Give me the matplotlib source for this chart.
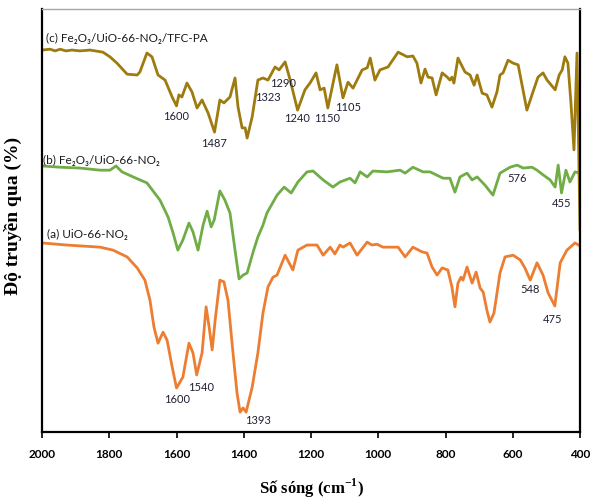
import matplotlib
matplotlib.use("Agg")
import matplotlib.pyplot as plt

# FTIR spectra, transmittance in arbitrary % units (stacked curves)
wn_a = [2000, 1926, 1827, 1789, 1747, 1717, 1694, 1679, 1667, 1655,
        1640, 1628, 1613, 1600, 1581, 1563, 1551, 1540, 1524, 1512,
        1503, 1494, 1485, 1471, 1459, 1447, 1432, 1420, 1411, 1402,
        1393, 1375, 1358, 1343, 1328, 1313, 1301, 1277, 1254, 1239,
        1212, 1182, 1164, 1143, 1129, 1114, 1105, 1084, 1063, 1033,
        1019, 1004, 986, 941, 920, 897, 870, 855, 840, 825,
        810, 793, 781, 772, 763, 754, 748, 736, 721, 709,
        697, 688, 677, 668, 656, 638, 623, 599, 578, 564,
        548, 528, 510, 495, 475, 459, 439, 415, 400]
t_a = [44.7, 44.2, 43.7, 43.0, 41.4, 38.8, 35.9, 31.2, 24.8, 21.0,
       23.6, 21.7, 15.4, 10.4, 13.0, 21.0, 18.7, 13.5, 18.7, 29.6,
       24.8, 19.4, 26.5, 35.9, 35.5, 31.2, 18.7, 9.2, 4.7, 5.7,
       4.7, 10.6, 18.7, 28.1, 34.3, 36.6, 37.1, 41.8, 38.3, 43.0,
       44.2, 44.2, 41.8, 43.7, 42.1, 44.2, 43.7, 44.7, 41.8, 44.9,
       44.2, 44.4, 43.7, 43.7, 41.4, 43.7, 42.6, 42.3, 39.0, 37.1,
       38.8, 38.3, 34.3, 29.6, 35.2, 36.6, 35.9, 39.0, 35.2, 37.8,
       34.0, 33.1, 28.8, 26.0, 28.1, 37.6, 41.4, 41.8, 40.7, 38.8,
       35.9, 40.0, 37.1, 32.9, 29.8, 40.0, 43.0, 44.7, 44.0]

wn_b = [2000, 1946, 1887, 1827, 1798, 1780, 1762, 1729, 1688, 1649,
        1625, 1610, 1596, 1581, 1563, 1551, 1536, 1521, 1509, 1497,
        1488, 1471, 1456, 1441, 1426, 1414, 1402, 1390, 1372, 1358,
        1343, 1331, 1301, 1280, 1259, 1239, 1212, 1194, 1164, 1135,
        1114, 1084, 1069, 1054, 1033, 1016, 974, 935, 920, 897,
        867, 846, 807, 787, 772, 757, 736, 721, 706, 683,
        659, 638, 608, 587, 569, 543, 528, 510, 489, 474,
        465, 455, 442, 430, 415, 400]
t_b = [62.9, 62.6, 62.4, 61.9, 61.9, 62.9, 61.5, 60.3, 58.9, 54.8,
       50.8, 47.0, 43.0, 45.4, 49.4, 47.3, 43.0, 48.9, 52.2, 48.5,
       50.1, 57.0, 54.8, 51.8, 43.0, 36.2, 37.1, 37.6, 42.6, 46.1,
       48.9, 51.8, 56.0, 57.9, 56.5, 59.1, 61.5, 61.7, 59.6, 57.9,
       59.1, 60.0, 58.9, 61.5, 60.3, 61.7, 61.5, 61.9, 61.2, 62.6,
       61.5, 61.5, 60.0, 60.0, 56.7, 60.3, 61.2, 59.6, 60.3, 58.4,
       56.0, 61.2, 62.6, 63.1, 62.4, 62.6, 61.9, 60.8, 59.6, 57.9,
       63.1, 56.5, 61.9, 59.1, 61.5, 61.2]

wn_c = [2000, 1976, 1961, 1946, 1929, 1911, 1887, 1857, 1819, 1798,
        1777, 1747, 1717, 1709, 1688, 1673, 1655, 1634, 1613, 1600,
        1593, 1584, 1569, 1554, 1539, 1524, 1506, 1487, 1471, 1459,
        1441, 1426, 1417, 1405, 1396, 1390, 1375, 1358, 1343, 1328,
        1307, 1295, 1277, 1262, 1240, 1218, 1203, 1185, 1173, 1161,
        1150, 1123, 1105, 1090, 1075, 1048, 1033, 1024, 1010, 995,
        971, 941, 914, 897, 885, 873, 861, 852, 840, 828,
        810, 795, 787, 781, 775, 763, 742, 727, 715, 706,
        691, 677, 662, 647, 638, 629, 614, 599, 584, 558,
        540, 525, 510, 498, 474, 462, 453, 445, 436, 427,
        418, 409, 400]
t_c = [90.3, 90.5, 90.1, 90.5, 90.1, 90.3, 90.1, 90.3, 89.8, 88.7,
       87.2, 84.6, 84.4, 85.1, 89.6, 88.7, 84.4, 83.2, 79.2, 77.1,
       79.7, 79.2, 82.5, 80.4, 76.6, 78.5, 75.4, 70.9, 78.5, 77.8,
       79.2, 83.7, 76.8, 71.9, 71.9, 69.5, 74.5, 83.2, 83.7, 83.2,
       86.3, 85.6, 87.5, 83.2, 76.1, 80.9, 82.5, 84.9, 80.9, 81.3,
       76.6, 86.8, 79.0, 82.7, 81.3, 85.6, 86.1, 88.4, 83.2, 85.6,
       86.3, 89.8, 88.7, 88.9, 87.2, 82.5, 85.8, 83.9, 83.7, 79.7,
       84.9, 83.9, 83.2, 83.9, 82.5, 88.4, 85.1, 84.4, 82.0, 84.4,
       80.1, 79.7, 76.8, 80.4, 84.4, 84.9, 87.9, 87.2, 86.8, 76.1,
       80.4, 83.9, 84.9, 83.2, 80.9, 84.4, 85.6, 88.7, 87.2, 77.8,
       66.7, 89.6, 47.8]

names = ["(a) UiO-66-NO\u2082",
         "(b) Fe\u2082O\u2083/UiO-66-NO\u2082",
         "(c) Fe\u2082O\u2083/UiO-66-NO\u2082/TFC-PA"]
colors = ["#ED7D31", "#70AD47", "#9E7B0F"]
name_pos = [(1985, 46.6), (1997, 64.3), (1988, 93.1)]

# peak annotations: (text, x, y)
peaks = [("1600", 1600, 74.7), ("1487", 1490, 68.3), ("1323", 1328, 79.0),
         ("1290", 1283, 82.5), ("1240", 1242, 74.0), ("1150", 1152, 74.2),
         ("1105", 1090, 76.6),
         ("576", 587, 60.0), ("455", 454, 54.1),
         ("1600", 1599, 7.6), ("1540", 1527, 10.6), ("1393", 1358, 2.8),
         ("548", 549, 33.8), ("475", 483, 26.7)]

plt.rcParams['mathtext.fontset'] = 'custom'
plt.rcParams['mathtext.rm'] = 'Liberation Serif'
plt.rcParams['mathtext.bf'] = 'Liberation Serif:bold'

fig = plt.figure(figsize=(5.9, 5.01), dpi=100)
ax = fig.add_axes([0.0712, 0.1377, 0.9119, 0.8443])

for wn, t, col in zip([wn_a, wn_b, wn_c], [t_a, t_b, t_c], colors):
    ax.plot(wn, t, color=col, lw=2.0, solid_joinstyle='round')

lbl_font = ['Lato', 'DejaVu Sans']
for name, (x, y) in zip(names, name_pos):
    ax.text(x, y, name, ha='left', va='center', fontsize=8.5,
            family=lbl_font, color='#1a1a1a')
for txt, x, y in peaks:
    ax.text(x, y, txt, ha='center', va='center', fontsize=8,
            family=lbl_font, color='#1f1f33')

ax.set_xlim(2000, 400)
ax.set_ylim(0, 100)
ax.set_xticks(range(2000, 399, -200))
ax.set_yticks([])
ax.tick_params(axis='x', direction='out', length=4, width=1.2, pad=8)
for lab in ax.get_xticklabels():
    lab.set_fontfamily('Lato')
    lab.set_fontweight('bold')
    lab.set_fontsize(8.5)

for side in ['left', 'bottom', 'right']:
    ax.spines[side].set_linewidth(1.6)
    ax.spines[side].set_color('black')
ax.spines['top'].set_linewidth(1.0)
ax.spines['top'].set_color('#a6a6a6')

ax.set_xlabel(r'Số sóng (cm$^{\mathbf{-1}}$)', family='Liberation Serif',
              fontweight='bold', fontsize=12, labelpad=12)
ax.set_ylabel('Độ truyền qua (%)', family='Liberation Serif',
              fontweight='bold', fontsize=14)
ax.yaxis.set_label_coords(-0.037, 0.51)

fig.savefig('out.png', dpi=100)
